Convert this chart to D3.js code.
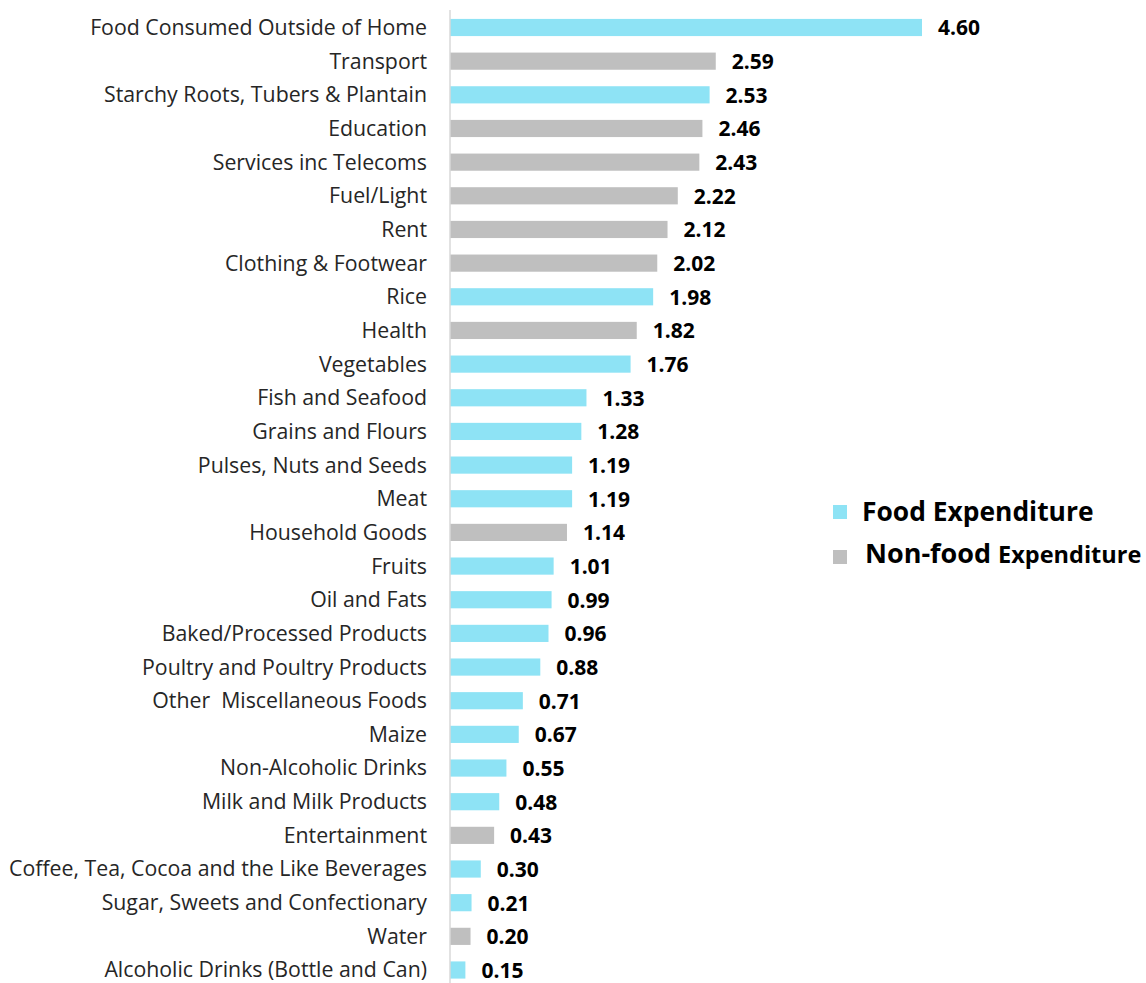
<!DOCTYPE html>
<html>
<head>
<meta charset="utf-8">
<script src="https://cdn.jsdelivr.net/npm/d3@7"></script>
<style>
  body { margin: 0; background: #fff; }
  svg { display: block; font-family: "Open Sans", "Noto Sans", sans-serif; }
  text { white-space: pre; }
</style>
</head>
<body>
<svg id="chart" width="1146" height="983"></svg>
<script>
// categories, top to bottom
const categories = [
  "Food Consumed Outside of Home", "Transport", "Starchy Roots, Tubers & Plantain",
  "Education", "Services inc Telecoms", "Fuel/Light", "Rent", "Clothing & Footwear",
  "Rice", "Health", "Vegetables", "Fish and Seafood", "Grains and Flours",
  "Pulses, Nuts and Seeds", "Meat", "Household Goods", "Fruits", "Oil and Fats",
  "Baked/Processed Products", "Poultry and Poultry Products",
  "Other  Miscellaneous Foods", "Maize", "Non-Alcoholic Drinks",
  "Milk and Milk Products", "Entertainment",
  "Coffee, Tea, Cocoa and the Like Beverages", "Sugar, Sweets and Confectionary",
  "Water", "Alcoholic Drinks (Bottle and Can)"
];
const values = [
  4.60, 2.59, 2.53, 2.46, 2.43, 2.22, 2.12, 2.02, 1.98, 1.82, 1.76, 1.33, 1.28,
  1.19, 1.19, 1.14, 1.01, 0.99, 0.96, 0.88, 0.71, 0.67, 0.55, 0.48, 0.43,
  0.30, 0.21, 0.20, 0.15
];
// F = food, N = non-food
const groups = [
  "F", "N", "F", "N", "N", "N", "N", "N", "F", "N", "F", "F", "F",
  "F", "F", "N", "F", "F", "F", "F", "F", "F", "F", "F", "N",
  "F", "F", "N", "F"
];
const legendLabels = ["Food Expenditure", "Non-food Expenditure"];

const colors = { F: "#8ee3f5", N: "#bfbfbf" };

const svg = d3.select("#chart");
const axisX = 450;

const x = d3.scaleLinear().domain([0, 4.60]).range([axisX, 922]);
const y = d3.scaleBand()
  .domain(categories)
  .range([10.5, 987])
  .paddingInner(0.49)
  .paddingOuter(0.25);

const rows = categories.map((c, i) => ({ cat: c, val: values[i], grp: groups[i] }));

// bars
svg.selectAll("rect.bar")
  .data(rows)
  .join("rect")
  .attr("class", "bar")
  .attr("x", x(0))
  .attr("y", d => y(d.cat))
  .attr("width", d => x(d.val) - x(0))
  .attr("height", y.bandwidth())
  .attr("fill", d => colors[d.grp]);

// vertical axis line
svg.append("line")
  .attr("x1", axisX).attr("x2", axisX)
  .attr("y1", 10).attr("y2", 983)
  .attr("stroke", "#d9d9d9")
  .attr("stroke-width", 1.5);

// category labels
svg.selectAll("text.cat")
  .data(rows)
  .join("text")
  .attr("class", "cat")
  .attr("x", 427)
  .attr("y", d => y(d.cat) + y.bandwidth() / 2)
  .attr("dy", "0.35em")
  .attr("text-anchor", "end")
  .attr("font-size", 21.3)
  .attr("fill", "#262626")
  .text(d => d.cat);

// value labels
svg.selectAll("text.val")
  .data(rows)
  .join("text")
  .attr("class", "val")
  .attr("x", d => x(d.val) + 16)
  .attr("y", d => y(d.cat) + y.bandwidth() / 2 + 0.5)
  .attr("dy", "0.35em")
  .attr("font-size", 21)
  .attr("font-weight", "bold")
  .attr("fill", "#000")
  .text(d => d3.format(".2f")(d.val));

// legend
const legend = svg.append("g");
const legendItems = [
  { key: "F", label: legendLabels[0], y: 512, tx: 862 },
  { key: "N", label: legendLabels[1], y: 557, tx: 865 }
];
legend.selectAll("rect")
  .data(legendItems)
  .join("rect")
  .attr("x", 833)
  .attr("y", d => d.y - 7)
  .attr("width", 14)
  .attr("height", 14)
  .attr("fill", d => colors[d.key]);

legend.selectAll("text")
  .data(legendItems)
  .join("text")
  .attr("x", d => d.tx)
  .attr("y", d => d.y)
  .attr("dy", "0.35em")
  .attr("font-weight", "bold")
  .attr("fill", "#000")
  .each(function (d) {
    const t = d3.select(this);
    if (d.key === "F") {
      t.attr("font-size", 26.4).text(d.label);
    } else {
      const parts = d.label.split(" ");
      t.append("tspan").attr("font-size", 27).text(parts[0] + " ");
      t.append("tspan").attr("font-size", 23.5).text(parts[1]);
    }
  });
</script>
</body>
</html>
